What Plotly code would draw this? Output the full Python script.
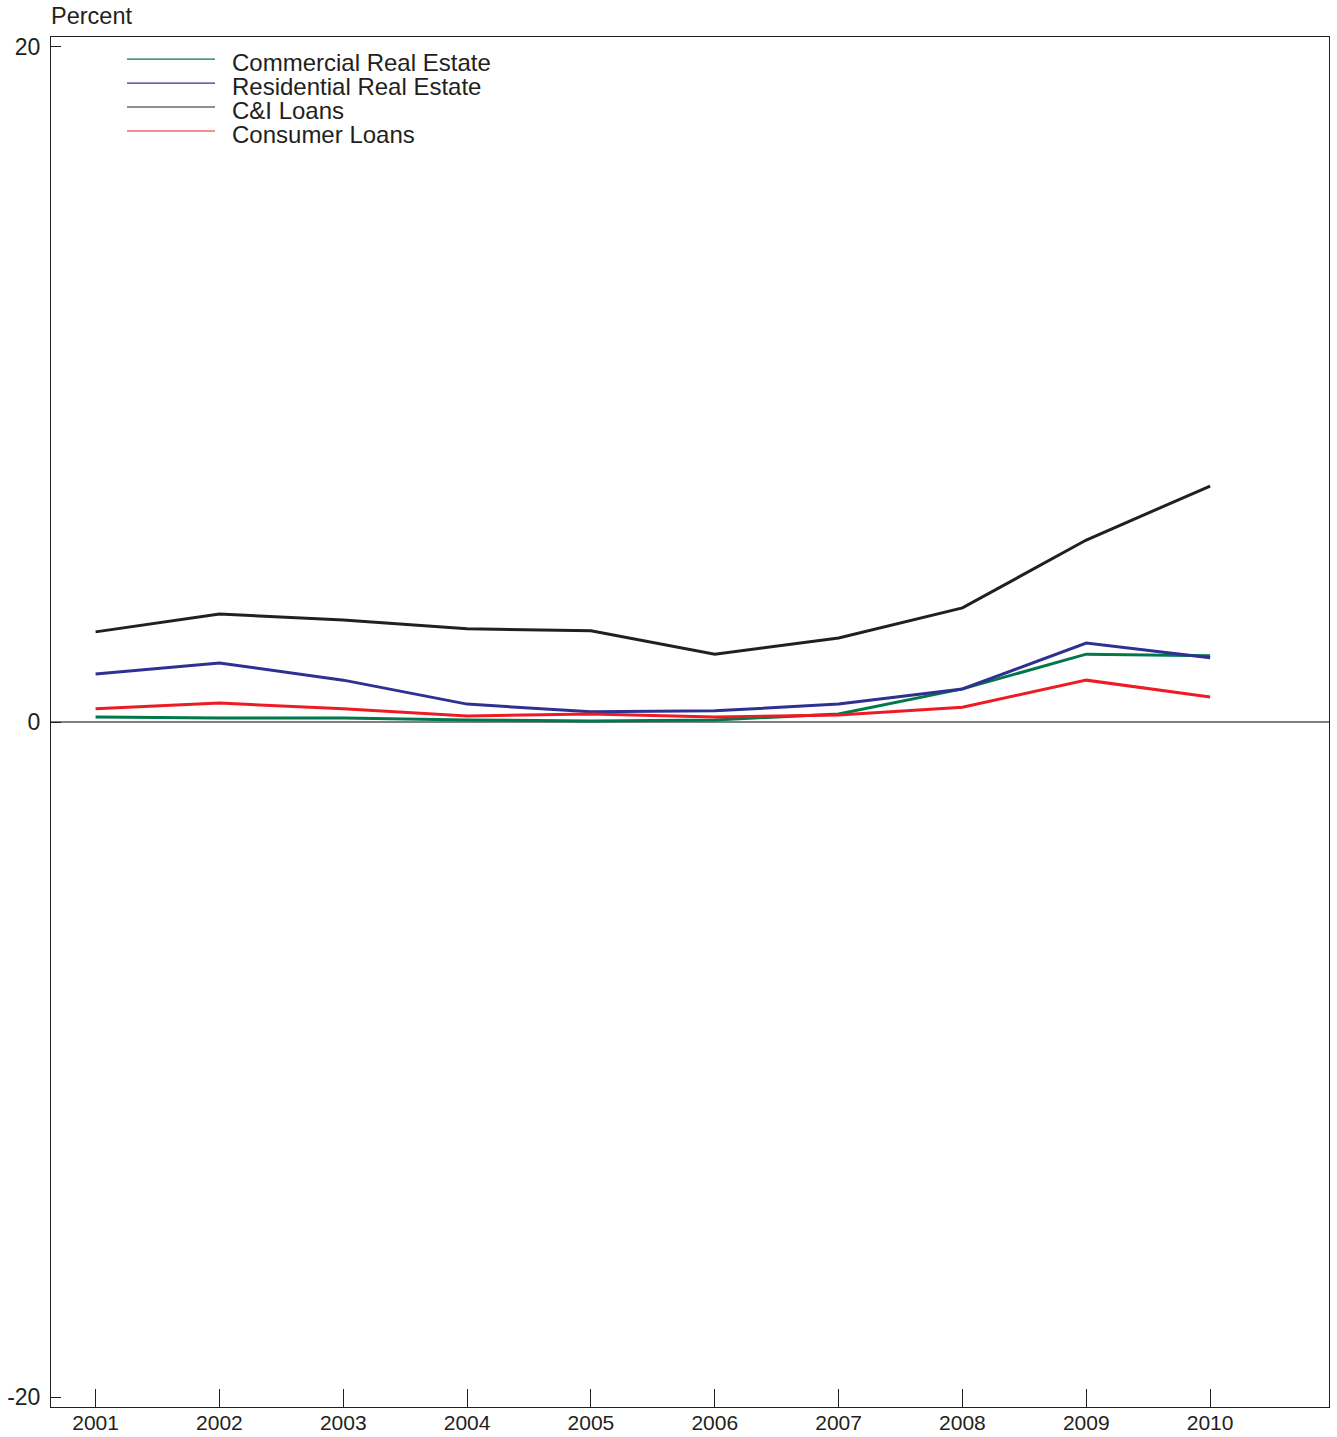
import plotly.graph_objects as go

years = [2001, 2002, 2003, 2004, 2005, 2006, 2007, 2008, 2009, 2010]
commercial = [0.15, 0.12, 0.12, 0.06, 0.03, 0.06, 0.24, 0.98, 2.01, 1.96]
residential = [1.42, 1.75, 1.24, 0.53, 0.30, 0.33, 0.53, 0.98, 2.34, 1.90]
ci_loans = [2.67, 3.20, 3.02, 2.76, 2.70, 2.01, 2.49, 3.38, 5.39, 6.99]
consumer = [0.39, 0.56, 0.39, 0.18, 0.24, 0.15, 0.21, 0.44, 1.24, 0.74]

series_names = ["Commercial Real Estate", "Residential Real Estate", "C&I Loans", "Consumer Loans"]
series_values = [commercial, residential, ci_loans, consumer]
colors = ["#00784A", "#2E3192", "#231F20", "#ED1C24"]

y_ticks = [-20, 0, 20]

FONT = "Liberation Sans, Arial, Helvetica, sans-serif"

fig = go.Figure()
for name, vals, col in zip(series_names, series_values, colors):
    fig.add_trace(go.Scatter(x=years, y=vals, mode="lines", name=name,
                             line=dict(color=col, width=3), showlegend=False))

# manual legend
row_y = [0.9839, 0.9664, 0.9489, 0.9314]
for name, col, yy in zip(series_names, colors, row_y):
    fig.add_shape(type="line", xref="paper", yref="paper",
                  x0=0.0595, x1=0.1283, y0=yy, y1=yy,
                  line=dict(color=col, width=1.2))
    fig.add_annotation(xref="paper", yref="paper", x=0.1416, y=yy - 0.0028,
                       text=name, showarrow=False, xanchor="left", yanchor="middle",
                       xshift=-2,
                       font=dict(family=FONT, size=24, color="#231F20"))

fig.add_annotation(xref="paper", yref="paper", x=0.0, y=1.0, yshift=21,
                   text="Percent", showarrow=False, xanchor="left", yanchor="middle",
                   xshift=-2,
                   font=dict(family=FONT, size=23.5, color="#231F20"))

fig.update_layout(
    width=1337, height=1437,
    margin=dict(l=51, r=8, t=37, b=30),
    paper_bgcolor="white", plot_bgcolor="white",
    font=dict(family=FONT, color="#231F20"),
    showlegend=False,
)
fig.update_xaxes(range=[2000.64, 2010.96], tickvals=years, ticktext=[str(y) for y in years],
                 ticks="inside", ticklen=18, tickcolor="#231F20", tickwidth=1,
                 showgrid=False, zeroline=False, automargin=False, ticklabelstandoff=-3,
                 showline=True, linecolor="#231F20", linewidth=1, mirror=True,
                 tickfont=dict(family=FONT, size=21, color="#231F20"))
fig.update_yaxes(range=[-20.29, 20.29], tickvals=y_ticks, ticktext=[str(v) for v in y_ticks],
                 ticks="inside", ticklen=10, tickcolor="#231F20", tickwidth=1,
                 showgrid=False, zeroline=True, zerolinecolor="#808080", zerolinewidth=1.5,
                 showline=True, linecolor="#231F20", linewidth=1, mirror=True, automargin=False,
                 ticklabelstandoff=5,
                 tickfont=dict(family=FONT, size=23, color="#231F20"))

fig.write_html("out.html", config={"displayModeBar": False},
               post_script="document.body.style.margin='0';document.body.style.overflow='hidden';")
